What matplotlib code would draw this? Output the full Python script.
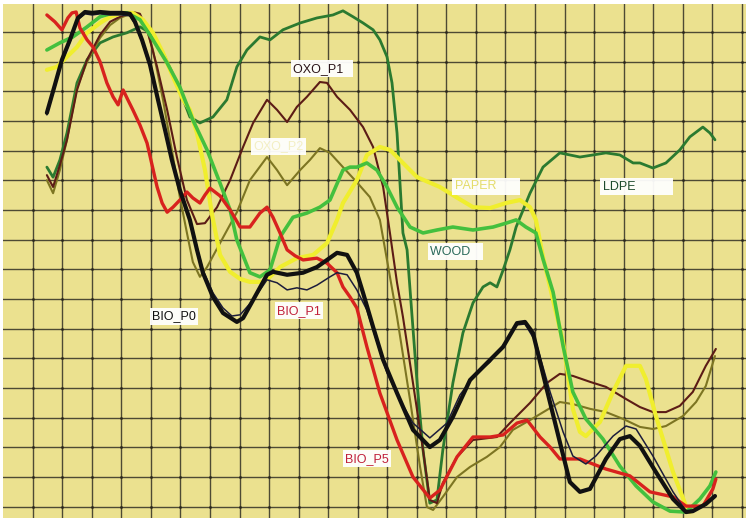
import matplotlib
matplotlib.use("Agg")
import matplotlib.pyplot as plt
import numpy as np

# spectra traced in grid units (x: 0..24 columns, y: 0..16 rows)
bio_p0 = [(0.48, 13.28), (0.75, 14.22), (0.99, 15.07), (1.26, 15.74), (1.53, 16.48), (1.77, 16.68),
          (2.01, 16.65), (2.28, 16.68), (2.62, 16.65), (3.02, 16.65), (3.29, 16.62), (3.46, 16.35),
          (3.70, 15.74), (3.97, 14.90), (4.24, 13.72), (4.48, 12.70), (4.71, 11.69), (4.98, 10.68),
          (5.32, 9.67), (5.56, 8.66), (5.76, 7.89), (6.10, 7.07), (6.44, 6.53), (6.91, 6.23),
          (7.12, 6.36), (7.46, 6.97), (7.93, 7.82), (8.13, 7.92), (8.61, 7.82), (9.15, 7.89),
          (9.62, 8.08), (10.30, 8.56), (10.64, 8.49), (10.97, 7.89), (11.18, 7.21), (11.52, 6.06),
          (11.86, 4.95), (12.33, 3.83), (12.87, 2.59), (13.44, 2.01), (13.78, 2.25), (14.22, 3.03),
          (14.80, 4.27), (15.24, 4.71), (15.92, 5.39), (16.39, 6.19), (16.66, 6.23), (16.93, 5.86),
          (17.37, 4.07), (17.84, 2.18), (18.18, 0.83), (18.52, 0.50), (18.86, 0.60), (19.40, 1.61),
          (19.87, 2.28), (20.21, 2.38), (20.55, 2.05), (21.09, 1.17), (21.67, 0.26), (22.11, -0.18),
          (22.34, -0.15), (22.78, 0.09), (23.09, 0.36)]

bio_p1 = [(0.48, 13.21), (0.75, 14.15), (0.99, 15.00), (1.26, 15.67), (1.53, 16.42), (1.77, 16.62),
          (2.01, 16.58), (2.28, 16.62), (2.62, 16.58), (3.02, 16.58), (3.29, 16.55), (3.46, 16.28),
          (3.70, 15.67), (3.97, 14.83), (4.24, 13.65), (4.48, 12.63), (4.71, 11.62), (4.98, 10.68),
          (5.32, 9.73), (5.56, 8.76), (5.76, 7.98), (6.10, 7.21), (6.44, 6.70), (6.74, 6.43),
          (7.02, 6.47), (7.46, 6.97), (7.93, 7.65), (8.27, 7.55), (8.61, 7.31), (8.94, 7.38),
          (9.28, 7.31), (9.62, 7.47), (10.06, 7.75), (10.30, 7.89), (10.64, 7.82), (10.97, 7.31),
          (11.31, 6.63), (11.65, 5.55), (11.99, 4.51), (12.43, 3.60), (12.87, 2.82), (13.44, 2.32),
          (14.02, 2.82), (14.46, 3.77), (14.97, 4.44), (15.48, 4.88), (15.98, 5.52), (16.39, 6.13),
          (16.66, 6.16), (17.03, 5.55), (17.51, 3.87), (17.95, 2.52), (18.28, 1.71), (18.72, 1.44),
          (19.06, 1.71), (19.64, 2.38), (20.08, 2.72), (20.42, 2.62), (20.99, 1.71), (21.67, 0.50),
          (22.11, -0.15), (22.41, -0.11), (22.78, 0.09), (23.09, 0.33)]

bio_p5 = [(0.48, 16.58), (0.75, 16.35), (0.99, 16.08), (1.19, 16.48), (1.33, 16.65), (1.47, 16.68),
          (1.60, 16.14), (1.84, 15.74), (2.04, 15.50), (2.28, 15.00), (2.51, 14.29), (2.72, 13.82),
          (2.89, 13.55), (3.06, 14.05), (3.22, 13.72), (3.39, 13.38), (3.63, 12.87), (3.87, 12.26),
          (4.04, 11.52), (4.21, 10.78), (4.38, 10.24), (4.55, 9.93), (4.75, 10.10), (4.98, 10.34),
          (5.22, 10.61), (5.42, 10.41), (5.66, 10.24), (5.83, 10.51), (6.00, 10.74), (6.34, 10.48),
          (6.68, 10.01), (7.02, 9.43), (7.35, 9.43), (7.69, 9.90), (7.93, 10.10), (8.13, 9.76),
          (8.37, 9.23), (8.61, 8.66), (8.88, 8.46), (9.15, 8.32), (9.62, 8.38), (9.96, 8.21),
          (10.30, 7.89), (10.50, 7.41), (10.74, 7.07), (10.97, 6.70), (11.31, 5.39), (11.75, 3.83),
          (12.33, 2.25), (12.87, 1.00), (13.44, 0.29), (13.78, 0.56), (14.36, 1.68), (14.90, 2.35),
          (15.48, 2.35), (15.92, 2.42), (16.39, 2.82), (16.73, 2.92), (17.17, 2.35), (17.51, 2.01),
          (17.84, 1.61), (18.52, 1.61), (19.40, 1.27), (20.21, 1.04), (20.89, 0.50), (21.67, 0.33),
          (22.11, 0.02), (22.68, 0.02), (23.02, 0.60), (23.12, 0.93)]

oxo_p1 = [(0.48, 11.18), (0.69, 10.78), (0.92, 11.52), (1.16, 12.37), (1.50, 14.05), (1.84, 15.07),
          (2.28, 15.91), (2.62, 16.35), (2.95, 16.52), (3.39, 16.68), (3.63, 16.62), (3.90, 15.98),
          (4.21, 14.83), (4.55, 13.38), (4.88, 11.79), (5.22, 10.34), (5.56, 9.53), (5.83, 9.56),
          (6.24, 10.10), (6.68, 11.01), (7.12, 12.13), (7.46, 12.94), (7.93, 13.72), (8.27, 13.38),
          (8.61, 12.97), (8.94, 13.48), (9.28, 13.82), (9.72, 14.32), (9.96, 14.29), (10.30, 13.82),
          (10.74, 13.38), (11.18, 12.80), (11.52, 12.13), (11.86, 10.78), (12.09, 9.23), (12.33, 7.55),
          (12.53, 6.40), (12.87, 4.17), (13.21, 1.91), (13.44, 0.23), (13.68, 0.12), (13.88, 0.80),
          (14.36, 1.68), (14.90, 2.25), (15.71, 2.35), (16.15, 2.82), (16.83, 3.50), (17.40, 4.17),
          (17.84, 4.48), (18.28, 4.41), (18.86, 4.21), (19.40, 4.04), (20.08, 3.63), (20.55, 3.36),
          (20.99, 3.19), (21.43, 3.19), (21.90, 3.40), (22.34, 3.87), (22.78, 4.75), (23.12, 5.32)]

oxo_p2 = [(0.48, 11.01), (0.69, 10.57), (0.92, 11.35), (1.16, 12.37), (1.50, 14.12), (1.84, 15.00),
          (2.28, 15.81), (2.62, 16.24), (2.95, 16.48), (3.39, 16.65), (3.63, 16.55), (3.87, 16.08),
          (4.07, 15.40), (4.41, 13.72), (4.75, 11.79), (4.98, 10.44), (5.22, 9.23), (5.42, 8.25),
          (5.66, 7.75), (5.90, 8.08), (6.34, 8.89), (6.91, 9.93), (7.35, 11.01), (7.93, 11.79),
          (8.27, 11.35), (8.61, 10.84), (9.05, 11.35), (9.38, 11.69), (9.72, 12.09), (10.06, 11.93),
          (10.50, 11.45), (10.97, 10.94), (11.41, 10.44), (11.75, 9.67), (11.99, 8.32), (12.33, 6.40),
          (12.77, 3.60), (13.11, 1.34), (13.34, -0.01), (13.55, -0.11), (13.88, 0.33), (14.36, 1.00),
          (14.80, 1.34), (15.37, 1.68), (15.81, 2.01), (16.25, 2.59), (16.83, 2.92), (17.40, 3.26),
          (17.84, 3.53), (18.28, 3.46), (18.86, 3.30), (19.40, 3.19), (19.98, 2.96), (20.55, 2.69),
          (20.99, 2.62), (21.43, 2.72), (22.01, 3.06), (22.45, 3.53), (22.78, 4.07), (23.09, 5.08)]

ldpe = [(0.48, 11.45), (0.69, 11.11), (0.92, 11.69), (1.16, 12.60), (1.50, 14.29), (1.84, 15.07),
        (2.28, 15.64), (2.72, 15.84), (3.19, 15.98), (3.63, 16.18), (3.97, 15.98), (4.41, 15.30),
        (4.88, 14.29), (5.32, 13.14), (5.66, 12.94), (6.10, 13.14), (6.57, 13.72), (6.91, 14.83),
        (7.25, 15.40), (7.69, 15.84), (8.03, 15.74), (8.47, 16.08), (9.05, 16.31), (9.62, 16.48),
        (10.16, 16.58), (10.50, 16.72), (10.84, 16.52), (11.18, 16.31), (11.52, 16.08), (11.75, 15.74),
        (11.99, 15.17), (12.16, 14.29), (12.33, 12.60), (12.43, 10.91), (12.53, 9.23), (12.67, 8.66),
        (12.84, 6.40), (13.01, 4.17), (13.21, 1.91), (13.44, 0.12), (13.68, 0.23), (13.88, 1.91),
        (14.22, 4.17), (14.56, 5.86), (14.90, 6.87), (15.24, 7.41), (15.48, 7.55), (15.71, 7.41),
        (15.92, 7.98), (16.15, 8.66), (16.36, 9.43), (16.83, 10.57), (17.27, 11.45), (17.84, 11.93),
        (18.52, 11.79), (19.40, 11.93), (19.87, 11.86), (20.32, 11.59), (20.55, 11.59), (20.99, 11.42),
        (21.43, 11.59), (21.90, 12.03), (22.24, 12.47), (22.68, 12.80), (22.92, 12.60), (23.09, 12.37)]

wood = [(0.48, 15.40), (0.92, 15.64), (1.36, 15.84), (1.84, 16.18), (2.28, 16.52), (2.72, 16.65),
        (3.19, 16.65), (3.63, 16.42), (4.07, 15.74), (4.55, 14.96), (4.98, 14.15), (5.42, 13.04),
        (5.90, 12.03), (6.34, 10.91), (6.68, 10.01), (6.91, 8.99), (7.35, 7.89), (7.69, 7.75),
        (8.03, 7.98), (8.37, 9.09), (8.81, 9.76), (9.28, 9.90), (9.72, 10.10), (10.06, 10.34),
        (10.50, 11.35), (10.74, 11.45), (10.97, 11.45), (11.31, 11.59), (11.65, 11.35), (11.99, 10.78),
        (12.33, 10.10), (12.77, 9.43), (13.21, 9.23), (13.68, 9.33), (14.22, 9.43), (14.90, 9.33),
        (15.58, 9.43), (16.02, 9.56), (16.36, 9.67), (16.69, 9.43), (17.03, 9.23), (17.27, 8.35),
        (17.61, 7.24), (17.95, 5.42), (18.28, 3.87), (18.72, 2.96), (19.30, 2.28), (19.87, 1.37),
        (20.42, 0.70), (20.99, 0.16), (21.57, -0.15), (22.11, -0.18), (22.58, 0.26), (22.92, 0.70),
        (23.12, 1.17)]

paper = [(0.48, 14.73), (0.82, 14.83), (1.16, 15.17), (1.50, 15.50), (1.84, 15.98), (2.28, 16.31),
         (2.62, 16.52), (3.06, 16.65), (3.39, 16.65), (3.73, 16.42), (4.07, 15.98), (4.41, 15.30),
         (4.75, 14.49), (5.09, 13.72), (5.32, 13.38), (5.56, 12.60), (5.83, 11.35), (6.07, 9.84),
         (6.34, 8.49), (6.68, 7.92), (7.02, 7.68), (7.35, 7.58), (7.79, 7.58), (8.03, 7.75),
         (8.37, 8.08), (8.94, 8.38), (9.49, 8.49), (9.96, 8.89), (10.30, 9.67), (10.50, 10.24),
         (10.97, 11.01), (11.31, 11.86), (11.75, 12.13), (12.09, 12.03), (12.53, 11.59), (13.01, 11.11),
         (13.78, 10.78), (14.33, 10.44), (14.90, 10.10), (15.48, 10.07), (16.02, 10.24), (16.49, 10.34),
         (16.83, 10.10), (17.03, 9.67), (17.27, 8.42), (17.61, 6.97), (17.95, 5.55), (18.28, 3.30),
         (18.52, 2.52), (18.72, 2.38), (19.20, 2.86), (19.64, 3.87), (20.08, 4.75), (20.55, 4.75),
         (20.75, 4.31), (21.09, 3.06), (21.67, 1.17), (22.11, 0.02), (22.24, -0.18)]

# name, points, colour, width (listed bottom to top)
series = [
    ("LDPE", ldpe, "#2b7a30", 2.0),
    ("OXO_P2", oxo_p2, "#7d7522", 1.5),
    ("OXO_P1", oxo_p1, "#5c1c16", 1.5),
    ("PAPER", paper, "#f0ee2e", 3.0),
    ("WOOD", wood, "#44c03e", 2.6),
    ("BIO_P5", bio_p5, "#d8221e", 2.4),
    ("BIO_P1", bio_p1, "#1c1c3c", 1.1),
    ("BIO_P0", bio_p0, "#111111", 3.0),
]

# label text, x, y, text colour
labels = [
    ("OXO_P1  ", 8.81, 14.76, "#2a1418"),
    ("OXO_P2", 7.46, 12.16, "#f3efc4"),
    ("PAPER      ", 14.29, 10.81, "#e4dc6a"),
    ("LDPE          ", 19.30, 10.78, "#1c4a2c"),
    ("WOOD   ", 13.45, 8.59, "#2a6a5a"),
    ("BIO_P0", 4.04, 6.43, "#111111"),
    ("BIO_P1", 8.27, 6.60, "#c0203a"),
    ("BIO_P5", 10.57, 1.61, "#c0203a"),
]

fig = plt.figure(figsize=(7.46, 5.18), dpi=100, facecolor="white")
ax = fig.add_axes([3 / 746, 0, 743 / 746, 514 / 518])
ax.set_facecolor("#ebe18f")
ax.set_xlim(-1.005, 24.14)
ax.set_ylim(-0.381, 16.95)

xt = np.arange(0, 25)
yt = np.arange(0, 17)
ax.set_xticks(xt)
ax.set_yticks(yt)
ax.tick_params(length=0, labelbottom=False, labelleft=False)
ax.grid(True, color="#4d4a34", lw=1.0)
ax.set_axisbelow(True)
gx, gy = np.meshgrid(xt, yt)
ax.scatter(gx.ravel(), gy.ravel(), s=4, color="#2a281c", zorder=1, lw=0)
for sp in ax.spines.values():
    sp.set_visible(False)

for i, (name, pts, col, lw) in enumerate(series):
    xs, ys = zip(*pts)
    ax.plot(xs, ys, color=col, lw=lw, solid_joinstyle="round",
            solid_capstyle="round", zorder=3 + i)

for text, x, y, col in labels:
    ax.text(x, y, text, color=col, fontsize=9, family="Liberation Sans",
            ha="left", va="center", zorder=20,
            bbox=dict(boxstyle="square,pad=0.2", fc="white", ec="none", alpha=0.95))

fig.savefig("out.png", dpi=100, facecolor="white")
